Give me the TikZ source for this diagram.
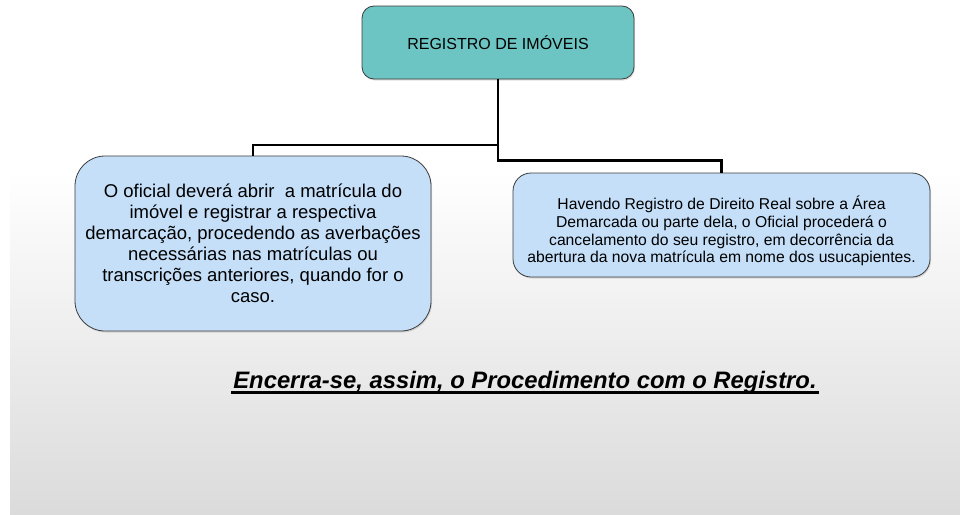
\documentclass[tikz,border=0pt]{standalone}
\usepackage{fontspec}
\setmainfont{Liberation Sans}
\usetikzlibrary{shadows}
\definecolor{verdeagua}{RGB}{108,197,194}
\definecolor{azulclaro}{RGB}{197,223,249}
\definecolor{fundo}{RGB}{219,219,219}
\definecolor{borda}{RGB}{60,60,60}
\tikzset{
  caixa/.style={draw=borda, line width=0.8pt, align=center, inner sep=0pt,
    drop shadow={opacity=0.25, shadow xshift=1pt, shadow yshift=-1.5pt}},
  elo/.style={line width=2.6pt},
  fecho/.style={inner sep=0pt, font=\fontsize{23.8}{28}\selectfont\bfseries\itshape},
}
\begin{document}
\begin{tikzpicture}[x=1pt,y=-1pt]
        \useasboundingbox (0,0) rectangle (960,514);
        \fill[white] (0,0) rectangle (960,514);
        \shade[top color=white, bottom color=fundo] (10,170) rectangle (960,514);
        \node[caixa, fill=verdeagua, rounded corners=12pt, minimum width=272pt, minimum height=73pt,
              font=\fontsize{16}{19}\selectfont] (registro) at (498,42.5) {REGISTRO DE IMÓVEIS};
        \node[caixa, fill=azulclaro, rounded corners=30pt, minimum width=356pt, minimum height=175pt,
              font=\fontsize{18.5}{21}\selectfont] (matricula) at (253,243.5)
              {O oficial deverá abrir\ \ a matrícula do\\ imóvel e registrar a respectiva\\
               demarcação, procedendo as averbações\\ necessárias nas matrículas ou\\
               transcrições anteriores, quando for o\\ caso.};
        \node[caixa, fill=azulclaro, rounded corners=18pt, minimum width=417pt, minimum height=104pt,
              font=\fontsize{15.7}{17.7}\selectfont] (cancelamento) at (721.5,225)
              {\rule{0pt}{26pt}Havendo Registro de Direito Real sobre a Área\\ Demarcada ou parte dela, o Oficial procederá o\\
               cancelamento do seu registro, em decorrência da\\ abertura da nova matrícula em nome dos usucapientes.};
        \draw[elo] (registro.south) -- (registro.south |- 0,145) -| (matricula.north);
        \draw[elo] (registro.south) -- (registro.south |- 0,160.5) -| (cancelamento.north);
        \node[fecho, anchor=base] (encerra) at (525,388.3) {Encerra-se, assim, o Procedimento com o Registro.};
        \draw[line width=2.5pt] ([xshift=-2pt,yshift=-4pt]encerra.base west) -- ([xshift=2pt,yshift=-4pt]encerra.base east);
\end{tikzpicture}
\end{document}
